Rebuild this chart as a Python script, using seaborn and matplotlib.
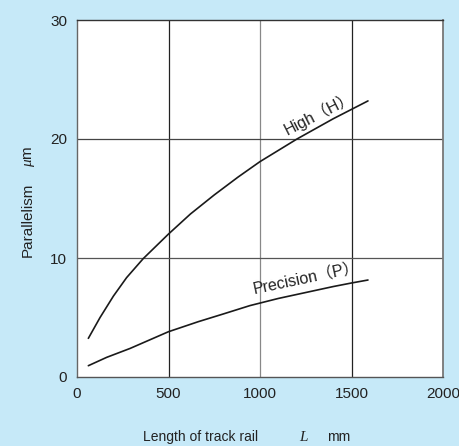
import matplotlib
matplotlib.use("Agg")
import matplotlib.pyplot as plt
import seaborn as sns
import pandas as pd

# Data
high_x = [62, 126, 199, 271, 362, 499, 620, 750, 880, 1000, 1202, 1400, 1590]
high_y = [3.25, 5.0, 6.8, 8.35, 9.95, 12.0, 13.7, 15.3, 16.8, 18.1, 20.0, 21.7, 23.2]
prec_x = [62, 162, 290, 499, 663, 800, 945, 1100, 1250, 1400, 1500, 1590]
prec_y = [0.95, 1.65, 2.4, 3.8, 4.65, 5.3, 6.0, 6.6, 7.1, 7.6, 7.9, 8.15]
x_ticks = [0, 500, 1000, 1500, 2000]
y_ticks = [0, 10, 20, 30]
label_high = "High（H）"
label_prec = "Precision（P）"

sns.set_theme(style="white")
plt.rcParams['font.family'] = ['Liberation Sans', 'Noto Sans CJK JP', 'DejaVu Sans']
plt.rcParams['mathtext.fontset'] = 'custom'
plt.rcParams['mathtext.it'] = 'Liberation Serif:italic'
plt.rcParams['mathtext.rm'] = 'Liberation Sans'

W, H = 459, 446
bg = '#c6e9f8'
txt = '#222222'
fig = plt.figure(figsize=(W/100, H/100), dpi=100, facecolor=bg)
ax = fig.add_axes([77/W, 1-377/H, 366/W, 357/H])
ax.set_facecolor('white')

df = pd.concat([
    pd.DataFrame({'x': high_x, 'y': high_y, 's': 'H'}),
    pd.DataFrame({'x': prec_x, 'y': prec_y, 's': 'P'}),
])
sns.lineplot(data=df, x='x', y='y', units='s', estimator=None, color='#1a1a1a',
             linewidth=1.2, ax=ax, legend=False, sort=True)

ax.set_xlim(0, 2000)
ax.set_ylim(0, 30)
ax.set_xticks(x_ticks)
ax.set_yticks(y_ticks)
ax.tick_params(length=0, pad=7, labelsize=11, colors=txt)
ax.set_xlabel("")
ax.set_ylabel("")

# grid lines
for xv, c in [(500, '#222222'), (1000, '#888888'), (1500, '#222222')]:
    ax.axvline(xv, color=c, lw=0.9, zorder=0)
for yv, c in [(10, '#555555'), (20, '#444444')]:
    ax.axhline(yv, color=c, lw=0.9, zorder=0)

for side, c in [('left', '#666666'), ('bottom', '#555555'), ('top', '#333333'), ('right', '#777777')]:
    ax.spines[side].set_visible(True)
    ax.spines[side].set_color(c)
    ax.spines[side].set_linewidth(1.3 if side == 'right' else 1.0)

def px(x, y):
    return x / W, 1 - y / H

# x axis label in pieces
fig.text(*px(143, 441), "Length of track rail", fontsize=10, color=txt,
         ha='left', va='baseline')
fig.text(*px(299, 441), "$L$", fontsize=11, color=txt, ha='left', va='baseline')
fig.text(*px(327, 441), "mm", fontsize=10, color=txt, ha='left', va='baseline')

# y axis label in pieces
fig.text(*px(32, 257), "Parallelism", fontsize=11, color=txt, rotation=90,
         rotation_mode='anchor', ha='left', va='baseline')
fig.text(*px(32, 167), "$\\mu$m", fontsize=11, color=txt, rotation=90,
         rotation_mode='anchor', ha='left', va='baseline')

ax.text(1320, 22.2, label_high, rotation=27, ha='center', va='center',
        fontsize=11.5, color=txt, rotation_mode='anchor')
ax.text(1255, 8.25, label_prec, rotation=12, ha='center', va='center',
        fontsize=11.5, color=txt, rotation_mode='anchor')

fig.savefig('out.png', dpi=100, facecolor=bg)
